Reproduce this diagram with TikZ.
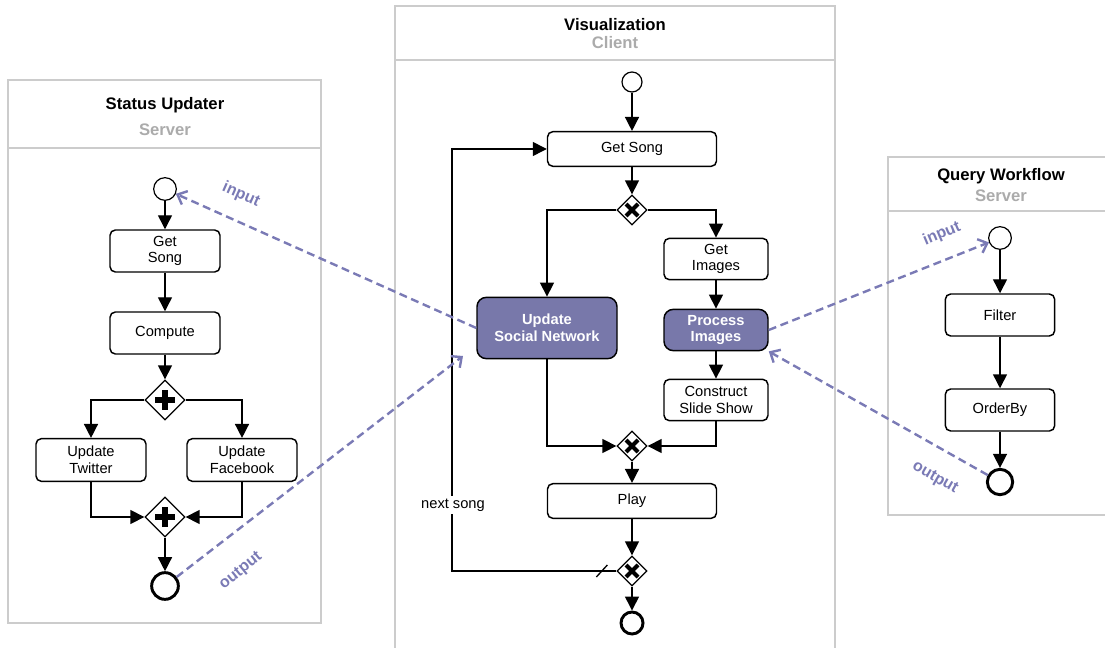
\documentclass[tikz,border=0pt]{standalone}
\usepackage{fontspec}
\setmainfont{Liberation Sans}
\usetikzlibrary{arrows.meta,positioning,shapes.geometric}
\definecolor{lavender}{HTML}{7878AA}
\definecolor{msgcol}{HTML}{7A7AB5}
\definecolor{lanegray}{HTML}{CCCCCC}
\definecolor{subgray}{HTML}{ABABAB}
\tikzset{
  task/.style={draw, rectangle, fill=white, rounded corners=4pt, align=center, line width=1.1pt, font=\fontsize{11}{12.5}\selectfont, inner sep=2pt},
  hot/.style={task, fill=lavender, text=white, font=\fontsize{11}{12.5}\selectfont\bfseries, rounded corners=7pt},
  startev/.style={draw, circle, fill=white, line width=0.9pt, minimum size=17pt, inner sep=0pt},
  endev/.style={draw, circle, fill=white, line width=2.2pt, minimum size=19pt, inner sep=0pt},
  gate/.style={draw, diamond, fill=white, line width=1pt, inner sep=0pt},
  andgate/.style={gate, minimum width=30pt, minimum height=30pt,
    path picture={\draw[line width=5pt] (path picture bounding box.center) +(-7.5pt,0) -- +(7.5pt,0)
      (path picture bounding box.center) +(0,-7.5pt) -- +(0,7.5pt);}},
  xorgate/.style={gate, minimum width=22.5pt, minimum height=22.5pt,
    path picture={\draw[line width=3pt] (path picture bounding box.center) +(-4.5pt,-4.5pt) -- +(4.5pt,4.5pt)
      (path picture bounding box.center) +(-4.5pt,4.5pt) -- +(4.5pt,-4.5pt);}},
  lane/.style={draw=lanegray, line width=1.2pt},
  title/.style={font=\fontsize{12.5}{14}\selectfont\bfseries},
  sub/.style={title, text=subgray},
  arr/.style={-{Triangle[length=10.5pt,width=10.5pt]}, line width=1.1pt},
  msg/.style={-{Straight Barb[length=6pt,width=11pt]}, draw=msgcol, line width=1.8pt, dash pattern=on 6pt off 3.5pt},
  lbl/.style={font=\fontsize{12}{13}\selectfont\bfseries, text=msgcol, inner sep=1pt}
}

\begin{document}
\begin{tikzpicture}[x=0.75pt,y=-0.75pt]
\useasboundingbox (0,0) rectangle (1105,648);
\clip (0,0) rectangle (1105,648);
% status updater
\draw[lane] (8,80) rectangle (321,623);
\draw[lane] (8,148) -- (321,148);
\node[title] (sut) at (165,105) {Status Updater};
\node[sub] (sus) at (165,130) {Server};
\node[startev] (sstart) at (165,189) {};
\node[task, minimum width=82.5pt, minimum height=31.5pt] (ssong) at (165,251) {Get\\Song};
\node[task, minimum width=82.5pt, minimum height=31.5pt] (scomp) at (165,333) {Compute};
\node[andgate] (sfork) at (165,400) {};
\node[task, minimum width=82.5pt, minimum height=32pt] (stw) at (91,460) {Update\\Twitter};
\node[task, minimum width=82.5pt, minimum height=32pt] (sfb) at (242,460) {Update\\Facebook};
\node[andgate] (sjoin) at (165,517) {};
\node[endev, minimum size=20pt] (send) at (165,586) {};
\draw[arr] (sstart) -- (ssong);
\draw[arr] (ssong) -- (scomp);
\draw[arr] (scomp) -- (sfork);
\draw[arr] (sfork) -| (stw);
\draw[arr] (sfork) -| (sfb);
\draw[arr] (stw) |- (sjoin);
\draw[arr] (sfb) |- (sjoin);
\draw[arr] (sjoin) -- (send);
% visualization
\draw[lane] (395,650) -- (395,6) -- (835,6) -- (835,650);
\draw[lane] (395,60) -- (835,60);
\node[title] (vit) at (615,25) {Visualization};
\node[sub] (vis) at (615,43) {Client};
\node[startev, minimum size=15pt] (vstart) at (632,82) {};
\node[task, minimum width=126.75pt, minimum height=26pt] (vsong) at (632,149) {Get Song};
\node[xorgate] (vsplit) at (632,210) {};
\node[task, minimum width=78pt, minimum height=31pt] (vimg) at (716,259) {Get\\Images};
\node[hot, minimum width=105pt, minimum height=46pt] (vsoc) at (547,328) {Update\\Social Network};
\node[hot, minimum width=78pt, minimum height=31pt] (vproc) at (716,330) {Process\\Images};
\node[task, minimum width=78pt, minimum height=31pt] (vshow) at (716,400) {Construct\\Slide Show};
\node[xorgate] (vmerge) at (632,446) {};
\node[task, minimum width=126.75pt, minimum height=26pt] (vplay) at (632,501) {Play};
\node[xorgate] (vloop) at (632,571) {};
\node[endev, minimum size=16.5pt] (vend) at (632,623) {};
\coordinate (vback) at (452,571);
\draw[arr] (vstart) -- (vsong);
\draw[arr] (vsong) -- (vsplit);
\draw[arr] (vsplit) -| (vsoc);
\draw[arr] (vsplit) -| (vimg);
\draw[arr] (vimg) -- (vproc);
\draw[arr] (vproc) -- (vshow);
\draw[arr] (vsoc) |- (vmerge);
\draw[arr] (vshow) |- (vmerge);
\draw[arr] (vmerge) -- (vplay);
\draw[arr] (vplay) -- (vloop);
\draw[arr] (vloop) -- (vend);
\draw[arr] (vloop) -- (vback) |- (vsong);
\draw[line width=1pt] (vloop.west) ++(-20,6) -- ++(11,-12);
\node[fill=white, font=\fontsize{11}{12}\selectfont, inner sep=2pt] (vnext) at (453,505) {next song};
% query workflow
\draw[lane] (1110,157) -- (888,157) -- (888,515) -- (1110,515);
\draw[lane] (888,211) -- (1110,211);
\node[title] (qwt) at (1001,176) {Query Workflow};
\node[sub] (qws) at (1001,196) {Server};
\node[startev] (qstart) at (1000,238) {};
\node[task, minimum width=82pt, minimum height=31.5pt] (qfilter) at (1000,315) {Filter};
\node[task, minimum width=82pt, minimum height=31.5pt] (qorder) at (1000,410) {OrderBy};
\node[endev] (qend) at (1000,482) {};
\draw[arr] (qstart) -- (qfilter);
\draw[arr] (qfilter) -- (qorder);
\draw[arr] (qorder) -- (qend);
% data flows
\coordinate (vin) at (463,356);
\draw[msg] (vsoc.west) -- (sstart);
\draw[msg] (send) -- (vin);
\draw[msg] (vproc.east) -- (qstart);
\draw[msg] (qend) -- (vproc.south east);
\node[lbl, rotate=-24] (lin1) at (241,195) {input};
\node[lbl, rotate=39] (lout1) at (241,571) {output};
\node[lbl, rotate=23] (lin2) at (942,234) {input};
\node[lbl, rotate=-30] (lout2) at (935,478) {output};
\end{tikzpicture}
\end{document}
